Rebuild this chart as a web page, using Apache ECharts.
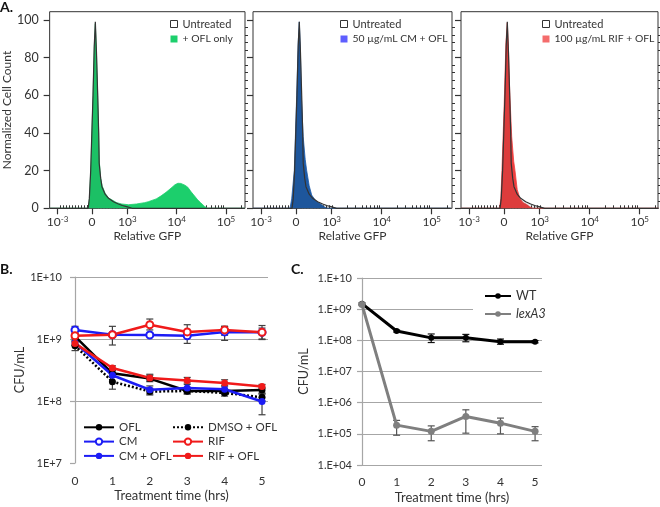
<!DOCTYPE html>
<html><head><meta charset="utf-8">
<script src="https://cdn.jsdelivr.net/npm/echarts@6/dist/echarts.min.js"></script>
<style>html,body{margin:0;padding:0;background:#fff}#c{width:660px;height:507px}</style>
</head><body><div id="c"></div>
<script>
// ---------- Panel A: flow cytometry histograms (x in display decade units) ----------
const gfpTickPos = [1.586, 2.286, 3, 4, 5];
const gfpTickBase = ['10', '0', '10', '10', '10'];
const gfpTickExp = ['-3', '', '3', '4', '5'];
const cellCountTicks = [0, 20, 40, 60, 80, 100];

const untreatedHist = [[1.43,0],[2.206,0],[2.23,5],[2.258,20],[2.305,60],[2.33,86],[2.352,99],[2.375,83],[2.40,60],[2.42,40],[2.43,24],[2.46,16],[2.486,11.5],[2.55,7.5],[2.62,5.3],[2.72,3.5],[2.82,2.3],[2.9,1.5],[2.986,0.9],[3.1,0],[5.38,0]];
const oflOnlyHist = [[1.43,0],[2.21,0],[2.232,5],[2.26,20],[2.306,60],[2.33,85],[2.352,98],[2.375,82],[2.40,60],[2.42,40],[2.435,24],[2.46,16],[2.49,12],[2.55,8],[2.62,5.5],[2.686,4.5],[2.786,3],[2.886,2.3],[3.026,1.9],[3.186,2.3],[3.35,3],[3.426,3.5],[3.586,5],[3.686,6.6],[3.786,8.5],[3.886,10.7],[3.966,12.5],[4.026,13.3],[4.086,13.2],[4.166,12.3],[4.226,11.2],[4.286,9],[4.346,7.1],[4.426,4.5],[4.486,3],[4.566,1],[4.626,0],[5.38,0]];
const cmOflHist = [[1.43,0],[2.166,0],[2.2,5],[2.252,20],[2.30,60],[2.33,88],[2.352,99],[2.372,85],[2.392,60],[2.43,38],[2.47,26],[2.50,20],[2.55,12],[2.60,7],[2.68,4],[2.766,2.5],[2.84,1],[2.9,0],[5.38,0]];
const rifOflHist = [[1.43,0],[2.2,0],[2.225,6],[2.245,20],[2.29,55],[2.325,88],[2.352,98.6],[2.375,85],[2.4,62],[2.44,38],[2.48,25],[2.506,20],[2.55,10],[2.606,5],[2.67,3],[2.74,2],[2.8,0.8],[2.86,0],[5.38,0]];

// ---------- Panel B: CFU/mL over time ----------
const hours = [0, 1, 2, 3, 4, 5];
const oflB      = [1.1e9, 2.8e8, 2.3e8, 1.45e8, 1.45e8, 1.5e8];
const oflBLow   = [1.0e9, 2.55e8, 2.05e8, 1.3e8, 1.3e8, 1.35e8];
const oflBHigh  = [1.2e9, 3.1e8, 2.6e8, 1.6e8, 1.6e8, 1.65e8];
const dmsoB     = [7.8e8, 2.05e8, 1.42e8, 1.45e8, 1.35e8, 1.15e8];
const dmsoBLow  = [6.5e8, 1.55e8, 1.25e8, 1.3e8, 1.2e8, 1.0e8];
const dmsoBHigh = [9.0e8, 2.7e8, 1.6e8, 1.6e8, 1.5e8, 1.3e8];
const cmB       = [1.4e9, 1.17e9, 1.16e9, 1.13e9, 1.3e9, 1.28e9];
const cmBLow    = [1.25e9, 1.1e9, 1.1e9, 8.5e8, 9.5e8, 1.0e9];
const cmBHigh   = [1.6e9, 1.25e9, 1.25e9, 1.35e9, 1.6e9, 1.5e9];
const rifB      = [1.13e9, 1.17e9, 1.7e9, 1.3e9, 1.4e9, 1.28e9];
const rifBLow   = [1.05e9, 8.0e8, 1.4e9, 1.05e9, 1.15e9, 9.8e8];
const rifBHigh  = [1.2e9, 1.6e9, 2.1e9, 1.7e9, 1.6e9, 1.65e9];
const cmOflB    = [8.7e8, 2.6e8, 1.52e8, 1.62e8, 1.55e8, 9.8e7];
const cmOflBLow = [8.0e8, 2.4e8, 1.3e8, 1.4e8, 1.35e8, 6.0e7];
const cmOflBHigh= [9.5e8, 2.8e8, 1.75e8, 1.85e8, 1.75e8, 1.3e8];
const rifOflB    = [8.5e8, 3.4e8, 2.35e8, 2.15e8, 1.95e8, 1.72e8];
const rifOflBLow = [7.8e8, 3.1e8, 2.1e8, 1.95e8, 1.75e8, 1.6e8];
const rifOflBHigh= [9.2e8, 3.7e8, 2.7e8, 2.4e8, 2.2e8, 1.85e8];

// ---------- Panel C ----------
const wtC      = [1.5e9, 2.0e8, 1.2e8, 1.2e8, 9.0e7, 9.0e7];
const wtCLow   = [1.4e9, 1.85e8, 8.5e7, 9.0e7, 7.5e7, 8.3e7];
const wtCHigh  = [1.6e9, 2.15e8, 1.6e8, 1.55e8, 1.1e8, 9.8e7];
const lexC     = [1.4e9, 1.9e5, 1.2e5, 3.6e5, 2.2e5, 1.2e5];
const lexCLow  = [1.3e9, 9.0e4, 6.0e4, 1.05e5, 1.0e5, 6.0e4];
const lexCHigh = [1.5e9, 2.7e5, 1.8e5, 5.9e5, 3.2e5, 1.7e5];

// ---------- build ----------
const FONT = 'Lato';
const pts = (v) => hours.map((h, i) => [h, v[i]]);
const errs = (lo, hi) => hours.map((h, i) => [h, lo[i], hi[i]]);

const gfpMinor = [];
for (let k = 1; k <= 10; k++) gfpMinor.push(1.586 + k * 0.06);
for (let k = 0; k <= 10; k++) gfpMinor.push(2.19 + k * 0.02);
for (let k = 1; k <= 10; k++) gfpMinor.push(2.36 + k * 0.066);
for (const d of [3, 4, 5]) for (let k = 2; k < 10; k++) { const v = d + Math.log10(k); if (v < 5.37) gfpMinor.push(v); }
const yMinorA = [];
for (let v = 4; v < 104; v += 4) if (v % 20) yMinorA.push(v);

const aLeft = [47, 253, 461], aWidth = [198, 199, 197];
const grids = [], xAxes = [], yAxes = [], series = [];
const gfpFormatter = (val) => {
  const i = gfpTickPos.findIndex(p => Math.abs(p - val) < 1e-6);
  if (i < 0) return '';
  return gfpTickExp[i] ? '{b|' + gfpTickBase[i] + '}{s|' + gfpTickExp[i] + '}' : '{b|' + gfpTickBase[i] + '}';
};
const histFill = [
  { name: '+ OFL only', data: oflOnlyHist, color: '#1ccf6c', legend: '#1ccf6c' },
  { name: '50 µg/mL CM + OFL', data: cmOflHist, color: '#1d5ba8', legend: '#5e5eff' },
  { name: '100 µg/mL RIF + OFL', data: rifOflHist, color: '#ef3f3f', legend: '#f46c6c' }
];
for (let i = 0; i < 3; i++) {
  grids.push({ left: aLeft[i], top: 11.7, width: aWidth[i], height: 196.6, show: true, borderColor: '#333', borderWidth: 1, backgroundColor: 'transparent' });
  const xmin = 1.426, xmax = 1.426 + aWidth[i] / 50;
  xAxes.push({ gridIndex: i, type: 'value', min: xmin, max: xmax, axisLine: { show: false }, splitLine: { show: false },
    axisTick: { show: true, customValues: gfpTickPos, length: 6, lineStyle: { color: '#333', width: 1.2 } },
    axisLabel: { customValues: gfpTickPos, formatter: gfpFormatter, margin: 4, color: '#333',
      rich: { b: { fontFamily: FONT, fontSize: 12, color: '#333', verticalAlign: 'bottom', lineHeight: 16 },
              s: { fontFamily: FONT, fontSize: 8, color: '#333', verticalAlign: 'bottom', lineHeight: 16, padding: [0, 0, 5, 0] } } },
    name: 'Relative GFP', nameLocation: 'middle', nameGap: 22, nameTextStyle: { fontFamily: FONT, fontSize: 12, color: '#333' } });
  xAxes.push({ gridIndex: i, type: 'value', min: xmin, max: xmax, axisLine: { show: false }, splitLine: { show: false },
    axisTick: { show: true, customValues: gfpMinor, length: 3, lineStyle: { color: '#333' } }, axisLabel: { show: false } });
  yAxes.push({ gridIndex: i, type: 'value', min: 0, max: 104.4, axisLine: { show: false }, splitLine: { show: false },
    axisTick: { show: true, customValues: cellCountTicks, length: 6, lineStyle: { color: '#333', width: 1.2 } },
    axisLabel: { show: i === 0, customValues: cellCountTicks, margin: 11, fontFamily: FONT, fontSize: 12.5, color: '#333' },
    name: i === 0 ? 'Normalized Cell Count' : '', nameLocation: 'middle', nameGap: 28, nameTextStyle: { fontFamily: FONT, fontSize: 12, color: '#333' } });
  yAxes.push({ gridIndex: i, type: 'value', min: 0, max: 104.4, axisLine: { show: false }, splitLine: { show: false },
    axisTick: { show: true, customValues: yMinorA, length: 3, lineStyle: { color: '#333' } }, axisLabel: { show: false } });
  series.push({ type: 'line', name: histFill[i].name, xAxisIndex: 2 * i, yAxisIndex: 2 * i, data: histFill[i].data, symbol: 'none',
    lineStyle: { width: 0.8, color: histFill[i].color }, itemStyle: { color: histFill[i].color },
    areaStyle: { color: histFill[i].color, opacity: 1 }, z: 2, silent: true });
  series.push({ type: 'line', name: 'Untreated', xAxisIndex: 2 * i, yAxisIndex: 2 * i, data: untreatedHist, symbol: 'none',
    lineStyle: { width: 1.2, color: '#333' }, itemStyle: { color: '#333' }, areaStyle: { color: 'rgba(40,40,40,0.12)' }, z: 3, silent: true });
}

// Panel B and C grids
grids.push({ left: 75, top: 277, width: 193, height: 186 });
grids.push({ left: 362, top: 278, width: 180, height: 187 });
const gridLineColor = '#a6a6a6';
const timeAxis = (gi, max, margin) => ({ gridIndex: gi, type: 'value', min: 0, max: max,
  axisLine: { show: false }, axisTick: { show: false }, splitLine: { show: false },
  axisLabel: { customValues: hours, margin: margin, fontFamily: FONT, fontSize: 12, color: '#333' },
  name: 'Treatment time (hrs)', nameLocation: 'middle', nameGap: 26, nameTextStyle: { fontFamily: FONT, fontSize: 13, color: '#333' } });
xAxes.push(timeAxis(3, 5.16, 12));
xAxes.push(timeAxis(4, 5.2, 11));
const cfuAxis = (gi, min, max, fmt, margin, gap, showMin) => ({ gridIndex: gi, type: 'log', logBase: 10, min: min, max: max,
  axisLine: { show: true, lineStyle: { color: gridLineColor, width: 1.2 } },
  axisTick: { show: true, length: 5, lineStyle: { color: gridLineColor, width: 1.2 } },
  splitLine: { show: true, showMinLine: showMin, lineStyle: { color: gridLineColor, width: 1.2 } },
  axisLabel: { formatter: fmt, margin: margin, fontFamily: FONT, fontSize: 11, color: '#333' },
  name: 'CFU/mL', nameLocation: 'middle', nameGap: gap, nameTextStyle: { fontFamily: FONT, fontSize: 12.5, color: '#333' } });
yAxes.push(cfuAxis(3, 1e7, 1e10, v => '1E+' + Math.round(Math.log10(v)), 13, 47, false));
yAxes.push(cfuAxis(4, 1e4, 1e10, v => { const e = Math.round(Math.log10(v)); return '1.E+' + (e < 10 ? '0' + e : e); }, 10, 52, true));

const errSeries = (xi, yi, data, color, z) => ({ type: 'custom', xAxisIndex: xi, yAxisIndex: yi, data: data, silent: true, z: z,
  encode: { x: 0, y: [1, 2] },
  renderItem: (params, api) => {
    const x = api.value(0);
    const lo = api.coord([x, api.value(1)]), hi = api.coord([x, api.value(2)]);
    const w = 3.5, st = { stroke: color, lineWidth: 1.2 };
    return { type: 'group', children: [
      { type: 'line', shape: { x1: lo[0], y1: lo[1], x2: hi[0], y2: hi[1] }, style: st },
      { type: 'line', shape: { x1: lo[0] - w, y1: lo[1], x2: lo[0] + w, y2: lo[1] }, style: st },
      { type: 'line', shape: { x1: hi[0] - w, y1: hi[1], x2: hi[0] + w, y2: hi[1] }, style: st } ] };
  } });
const lineB = (name, vals, color, opts) => Object.assign({ type: 'line', name: name, xAxisIndex: 6, yAxisIndex: 6, data: pts(vals),
  symbol: 'circle', symbolSize: 7, lineStyle: { color: color, width: 2.5 }, itemStyle: { color: color }, z: 5 }, opts || {});

const BLACK = '#000', BLUE = '#1c1cf5', RED = '#f01a1a', ERR = '#404040';
series.push(errSeries(6, 6, errs(oflBLow, oflBHigh), ERR, 4));
series.push(errSeries(6, 6, errs(dmsoBLow, dmsoBHigh), ERR, 4));
series.push(errSeries(6, 6, errs(cmBLow, cmBHigh), ERR, 4));
series.push(errSeries(6, 6, errs(cmOflBLow, cmOflBHigh), ERR, 4));
series.push(errSeries(6, 6, errs(rifBLow, rifBHigh), ERR, 4));
series.push(errSeries(6, 6, errs(rifOflBLow, rifOflBHigh), ERR, 4));
series.push(lineB('OFL', oflB, BLACK));
series.push(lineB('DMSO + OFL', dmsoB, BLACK, { lineStyle: { color: BLACK, width: 2.5, type: [2, 2] } }));
series.push(lineB('CM', cmB, BLUE, { symbol: 'emptyCircle', itemStyle: { color: BLUE, borderWidth: 1.5 } }));
series.push(lineB('CM + OFL', cmOflB, BLUE));
series.push(lineB('RIF', rifB, RED, { symbol: 'emptyCircle', itemStyle: { color: RED, borderWidth: 1.5 } }));
series.push(lineB('RIF + OFL', rifOflB, RED));

const GRAY = '#7f7f7f';
series.push(errSeries(7, 7, errs(wtCLow, wtCHigh), '#111', 4));
series.push(errSeries(7, 7, errs(lexCLow, lexCHigh), '#555', 4));
series.push({ type: 'line', name: 'WT', xAxisIndex: 7, yAxisIndex: 7, data: pts(wtC), symbol: 'circle', symbolSize: 6,
  lineStyle: { color: '#000', width: 3 }, itemStyle: { color: '#000' }, z: 5 });
series.push({ type: 'line', name: 'lexA3', xAxisIndex: 7, yAxisIndex: 7, data: pts(lexC), symbol: 'circle', symbolSize: 7,
  lineStyle: { color: GRAY, width: 3 }, itemStyle: { color: GRAY }, z: 5 });

const untreatedLegendItem = { name: 'Untreated', icon: 'rect', itemStyle: { color: '#fff', borderColor: '#333', borderWidth: 1 } };
const legendA = (i, left) => ({ left: left, top: 17, orient: 'vertical', padding: 0, itemGap: 1, itemWidth: 7, itemHeight: 7,
  textStyle: { fontFamily: FONT, fontSize: 11, color: '#333', lineHeight: 14,
    rich: { n: { fontFamily: FONT, fontSize: 10.4, color: '#333', lineHeight: 14 } } },
  formatter: n => n === 'Untreated' ? n : '{n|' + n + '}', selectedMode: false,
  data: [untreatedLegendItem, { name: histFill[i].name, icon: 'rect', itemStyle: { color: histFill[i].legend, borderWidth: 0 } }] });
const legendB = (left, names) => ({ left: left, top: 420.3, orient: 'vertical', padding: 0, itemGap: 0.3, itemWidth: 30, itemHeight: 8,
  textStyle: { fontFamily: FONT, fontSize: 11.5, color: '#333', lineHeight: 14 }, selectedMode: false, data: names });

const option = {
  animation: false,
  backgroundColor: '#fff',
  textStyle: { fontFamily: FONT },
  title: [
    { text: 'A.', left: 0, top: 0, padding: 0, textStyle: { fontFamily: FONT, fontSize: 14, fontWeight: 'bold', color: '#111' } },
    { text: 'B.', left: 0, top: 262, padding: 0, textStyle: { fontFamily: FONT, fontSize: 14, fontWeight: 'bold', color: '#111' } },
    { text: 'C.', left: 291, top: 262, padding: 0, textStyle: { fontFamily: FONT, fontSize: 14, fontWeight: 'bold', color: '#111' } }
  ],
  legend: [
    legendA(0, 170), legendA(1, 340), legendA(2, 542),
    legendB(83, ['OFL', 'CM', 'CM + OFL']),
    legendB(172, ['DMSO + OFL', 'RIF', 'RIF + OFL']),
    { left: 473, top: 285.5, orient: 'vertical', padding: [3, 2, 3, 11], itemGap: 3, itemWidth: 26, itemHeight: 7,
      backgroundColor: '#fff', selectedMode: false,
      textStyle: { fontFamily: FONT, fontSize: 12.5, color: '#333', lineHeight: 15, rich: { i: { fontFamily: FONT, fontSize: 12.5, fontStyle: 'italic', color: '#333' } } },
      formatter: n => n === 'lexA3' ? '{i|lexA3}' : n,
      data: ['WT', 'lexA3'] }
  ],
  grid: grids, xAxis: xAxes, yAxis: yAxes, series: series
};
const chart = echarts.init(document.getElementById('c'), null, { renderer: 'canvas' });
chart.setOption(option);
</script></body></html>
